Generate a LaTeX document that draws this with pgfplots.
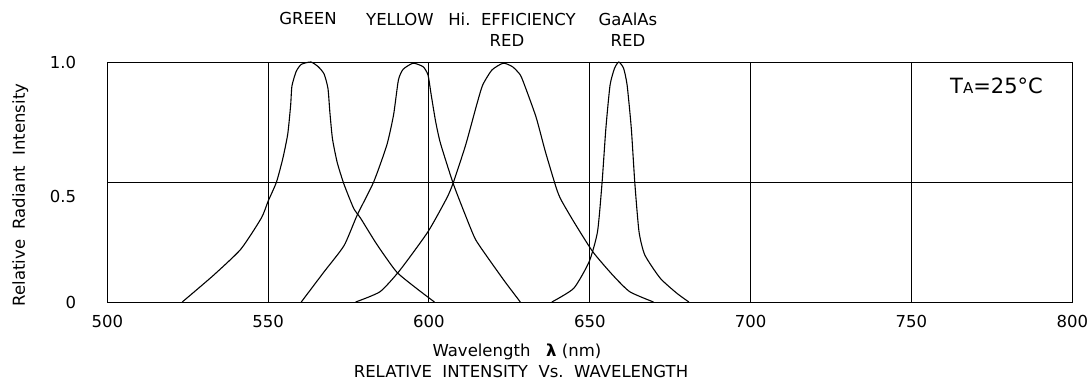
\documentclass[border=0pt]{standalone}
\usepackage{fontspec}
\setmainfont{DejaVu Sans}
\usepackage{pgfplots}
\pgfplotsset{compat=1.18}

\pgfplotstableread{
x y
523.3 0
532.9 0.11
541.5 0.22
547.9 0.35
550.0 0.42
552.6 0.50
554.6 0.60
556.1 0.70
557.0 0.82
557.4 0.90
558.7 0.96
560.3 0.99
563.3 1.00
565.6 0.98
567.4 0.95
568.6 0.89
569.2 0.79
570.0 0.68
571.5 0.58
573.6 0.49
576.6 0.39
578.7 0.35
583.8 0.24
589.9 0.126
596.1 0.057
601.7 0
}\green

\pgfplotstableread{
x y
560.3 0
567.4 0.126
573.6 0.235
577.7 0.3625
582.8 0.50
586.9 0.654
589.0 0.78
590.5 0.925
592.0 0.97
595.1 0.995
598.2 0.98
599.7 0.946
600.7 0.8625
602.1 0.75
603.6 0.66
607.5 0.495
610.9 0.376
614.3 0.265
617.7 0.196
623.6 0.085
628.4 0
}\yellow

\pgfplotstableread{
x y
577.2 0
584.8 0.043
591.0 0.133
599.7 0.293
605.5 0.432
607.5 0.495
611.4 0.654
614.8 0.82
616.7 0.904
619.6 0.967
623.1 0.995
626.0 0.98
628.4 0.946
629.9 0.897
633.3 0.77
636.2 0.626
639.6 0.474
641.1 0.425
645.0 0.335
650.9 0.21
657.1 0.1125
662.4 0.043
669.8 0
}\hired

\pgfplotstableread{
x y
638.2 0
645.0 0.057
649.8 0.168
652.4 0.293
653.8 0.495
655.0 0.724
656.3 0.904
657.7 0.974
659.0 1.0
660.5 0.974
661.6 0.904
662.9 0.724
664.0 0.495
665.3 0.293
667.1 0.196
671.9 0.099
677.1 0.036
680.8 0
}\gaalas

\begin{document}
\fontsize{16.5}{19.8}\selectfont
\begin{tikzpicture}[font=\fontsize{16.5}{19.8}\selectfont]
\useasboundingbox (-107.3pt,-79pt) rectangle (979.7pt,302pt);
\begin{axis}[
  at={(0pt,0pt)}, anchor=south west,
  scale only axis, width=965pt, height=240pt,
  xmin=500, xmax=800, ymin=0, ymax=1,
  axis line style={line width=1pt},
  xtick={500,550,600,650,700,750,800},
  xticklabels={500,550,600,650,700,750,800},
  ytick={0,0.4388,1},
  yticklabels={0,0.5,1.0},
  extra y ticks={0.5},
  extra y tick labels={},
  extra y tick style={ymajorgrids=true, yticklabel=\empty},
  xmajorgrids=true,
  major grid style={black, line width=1pt},
  tick style={draw=none},
  /pgf/number format/assume math mode=true,
  xticklabel style={anchor=base, inner sep=0pt, yshift=-25pt},
  yticklabel style={anchor=east, inner sep=0pt, xshift=-31pt},
  clip=false,
]
\addplot[black, line width=1.1pt, smooth, tension=0.35] table {\green};
\addplot[black, line width=1.1pt, smooth, tension=0.35] table {\yellow};
\addplot[black, line width=1.1pt, smooth, tension=0.35] table {\hired};
\addplot[black, line width=1.1pt, smooth, tension=0.35] table {\gaalas};

\node[anchor=base] at (rel axis cs:0.208,1.158) {GREEN};
\node[anchor=base] at (rel axis cs:0.3033,1.152) {YELLOW};
\node[anchor=base] at (rel axis cs:0.4194,1.152) {Hi.\ \ EFFICIENCY};
\node[anchor=base] at (rel axis cs:0.4142,1.0638) {RED};
\node[anchor=base] at (rel axis cs:0.5396,1.152) {GaAlAs};
\node[anchor=base] at (rel axis cs:0.5396,1.0638) {RED};

\node[anchor=base west, inner sep=0pt] at (rel axis cs:0.8733,0.8696)
  {\fontsize{21}{24}\selectfont T{\fontsize{15}{16}\selectfont A}=25°C};

\node[anchor=base] at (rel axis cs:0.4245,-0.225) {Wavelength\ \ \ {\bfseries λ} (nm)};
\node[anchor=base] at (rel axis cs:0.4287,-0.315) {RELATIVE\ \ INTENSITY\ \ Vs.\ \ WAVELENGTH};
\node[anchor=base, rotate=90, inner sep=0pt] at ([xshift=-82.3pt]rel axis cs:0,0.4458)
  {Relative\ \ Radiant\ \ Intensity};
\end{axis}
\end{tikzpicture}
\end{document}
